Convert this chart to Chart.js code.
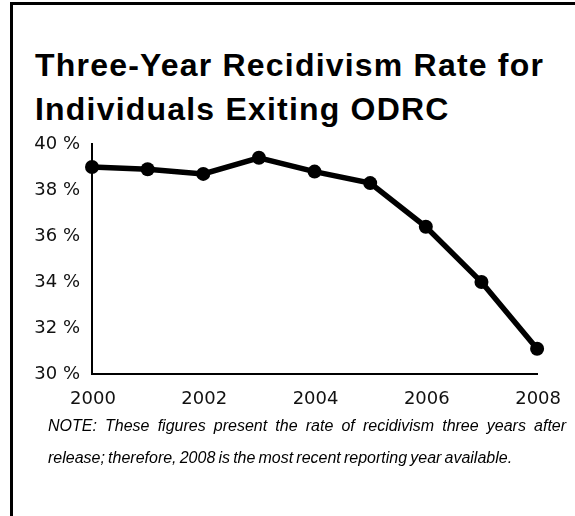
<!DOCTYPE html>
<html>
<head>
<meta charset="utf-8">
<script src="https://cdn.jsdelivr.net/npm/chart.js@4/dist/chart.umd.min.js"></script>
<style>
  html, body { margin: 0; padding: 0; background: #fff; overflow: hidden; }
  body { width: 575px; height: 516px; position: relative; }
  .frame { position: absolute; left: 10px; top: 2px; width: 700px; height: 700px; border: 3px solid #000; box-sizing: border-box; }
  .title { position: absolute; left: 35px; top: 43px; font: bold 32px "Liberation Sans", Arial, sans-serif; line-height: 44px; letter-spacing: 1.2px; color: #000; white-space: nowrap; }
  .note { position: absolute; left: 48px; top: 410px; font: italic 16px "Liberation Sans", Arial, sans-serif; line-height: 32px; color: #000; white-space: nowrap; }
  .note .l1 { word-spacing: 3.7px; }
  .note .l2 { word-spacing: -1.3px; }
  #chart { position: absolute; left: 0; top: 0; }
</style>
</head>
<body>
<div class="frame"></div>
<div class="title">Three-Year Recidivism Rate for<br>Individuals Exiting ODRC</div>
<canvas id="chart" width="575" height="516"></canvas>
<div class="note"><span class="l1">NOTE: These figures present the rate of recidivism three years after</span><br><span class="l2">release; therefore, 2008 is the most recent reporting year available.</span></div>
<script>
const years = ['2000', '2001', '2002', '2003', '2004', '2005', '2006', '2007', '2008']
const rates = [39.0, 38.9, 38.7, 39.4, 38.8, 38.3, 36.4, 34.0, 31.1]
const yMin = 30
const yMax = 40
const yStep = 2

const tickFont = { family: '"DejaVu Sans", sans-serif', size: 18 }

const ctx = document.getElementById('chart').getContext('2d')
new Chart(ctx, {
    type: 'line',
    data: {
        labels: years,
        datasets: [{
            data: rates,
            borderColor: '#000',
            backgroundColor: '#000',
            borderWidth: 5.5,
            pointRadius: 7,
            pointBorderWidth: 0,
            pointBackgroundColor: '#000',
            tension: 0,
            clip: false
        }]
    },
    options: {
        responsive: false,
        animation: false,
        layout: { padding: { left: 0, top: 144, right: 26, bottom: 102 } },
        plugins: {
            legend: { display: false },
            tooltip: { enabled: false }
        },
        scales: {
            x: {
                offset: false,
                grid: { display: false, drawTicks: false },
                border: { display: true, color: '#000', width: 2 },
                ticks: {
                    autoSkip: false,
                    maxRotation: 0,
                    padding: 15,
                    labelOffset: 1,
                    color: '#111',
                    font: tickFont,
                    callback: (v, i) => i % 2 === 0 ? years[i] : ''
                },
                afterFit: scale => { scale.height = 40 }
            },
            y: {
                min: yMin,
                max: yMax,
                grid: { display: false, drawTicks: false },
                border: { display: true, color: '#000', width: 2 },
                ticks: {
                    stepSize: yStep,
                    padding: 12,
                    color: '#111',
                    font: tickFont,
                    callback: v => v + ' %'
                },
                afterFit: scale => { scale.width = 92 }
            }
        }
    }
})
</script>
</body>
</html>
